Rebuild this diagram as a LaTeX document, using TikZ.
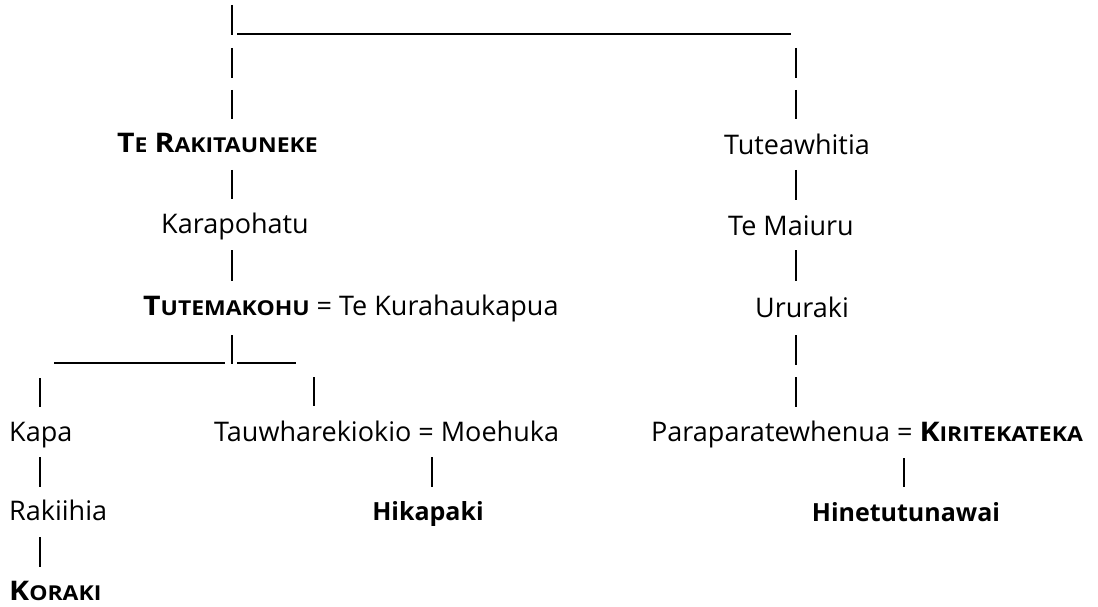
\documentclass[tikz,border=0pt]{standalone}
\usepackage{fontspec}
\setmainfont{Open Sans}
\newfontfamily\scf[FakeStretch=1.12]{Open Sans}
\newcommand\bigc[1]{{\scf\bfseries #1}}
\newcommand\smcap[1]{{\scf\bfseries\fontsize{20.5}{20.5}\selectfont #1}}
\newcommand\boldname[1]{{\bfseries\fontsize{25}{25}\selectfont #1}}
\tikzset{
  person/.style={inner sep=0pt, font=\fontsize{27}{27}\selectfont},
  bar/.style={line width=2.4pt, line cap=butt},
  hbar/.style={line width=2pt}
}
\begin{document}
\begin{tikzpicture}[x=1pt,y=-1pt]
\useasboundingbox (0,0) rectangle (1098,607);
% names
\node[person, anchor=base west] (rak) at (117,153) {\bigc{T}\smcap{E} \bigc{R}\smcap{AKITAUNEKE}};
\node[person, anchor=base] (kar) at (235,233) {Karapohatu};
\node[person, anchor=base west] (tut) at (143,315) {\bigc{T}\smcap{UTEMAKOHU} = Te Kurahaukapua};
\node[person, anchor=base] (tuw) at (797,154) {Tuteawhitia};
\node[person, anchor=base] (mai) at (791,235) {Te Maiuru};
\node[person, anchor=base] (uru) at (802,317) {Ururaki};
\node[person, anchor=base west] (par) at (651,441) {Paraparatewhenua = \bigc{K}\smcap{IRITEKATEKA}};
\node[person, anchor=base] (hin) at (906,521) {\boldname{Hinetutunawai}};
\node[person, anchor=base west] (kapa) at (9,441) {Kapa};
\node[person, anchor=base west] (tau) at (214,441) {Tauwharekiokio = Moehuka};
\node[person, anchor=base west] (rki) at (9,520) {Rakiihia};
\node[person, anchor=base] (hik) at (428,520) {\boldname{Hikapaki}};
\node[person, anchor=base west] (kor) at (9,600) {\bigc{K}\smcap{ORAKI}};
% bar end points
\coordinate (t0) at (232,5);   \coordinate (t1) at (232,35);
\coordinate (h0) at (237,34);  \coordinate (h1) at (791,34);
\coordinate (l1a) at (232,48); \coordinate (l1b) at (232,78);
\coordinate (l2a) at (232,90); \coordinate (l2b) at (232,119);
\coordinate (l3a) at (232,170);\coordinate (l3b) at (232,199);
\coordinate (l4a) at (232,250);\coordinate (l4b) at (232,281);
\coordinate (l5a) at (232,335);\coordinate (l5b) at (232,364);
\coordinate (s0) at (54,363);  \coordinate (s1) at (225,363);
\coordinate (s2) at (237,363); \coordinate (s3) at (296,363);
\coordinate (k1a) at (40,378); \coordinate (k1b) at (40,407);
\coordinate (w1a) at (314,377);\coordinate (w1b) at (314,406);
\coordinate (k2a) at (40,457); \coordinate (k2b) at (40,487);
\coordinate (k3a) at (40,537); \coordinate (k3b) at (40,567);
\coordinate (m1a) at (432,457);\coordinate (m1b) at (432,487);
\coordinate (r1a) at (796,48); \coordinate (r1b) at (796,78);
\coordinate (r2a) at (796,90); \coordinate (r2b) at (796,119);
\coordinate (r3a) at (796,170);\coordinate (r3b) at (796,200);
\coordinate (r4a) at (796,250);\coordinate (r4b) at (796,281);
\coordinate (r5a) at (796,335);\coordinate (r5b) at (796,365);
\coordinate (r6a) at (796,377);\coordinate (r6b) at (796,407);
\coordinate (p1a) at (904,458);\coordinate (p1b) at (904,487);
% connectors
\draw[bar] (t0) -- (t1);
\draw[hbar] (h0) -- (h1);
\foreach \c in {l1,l2,l3,l4,l5,k1,w1,k2,k3,m1,r1,r2,r3,r4,r5,r6,p1}
  \draw[bar] (\c a) -- (\c b);
\draw[hbar] (s0) -- (s1);
\draw[hbar] (s2) -- (s3);
\end{tikzpicture}
\end{document}
